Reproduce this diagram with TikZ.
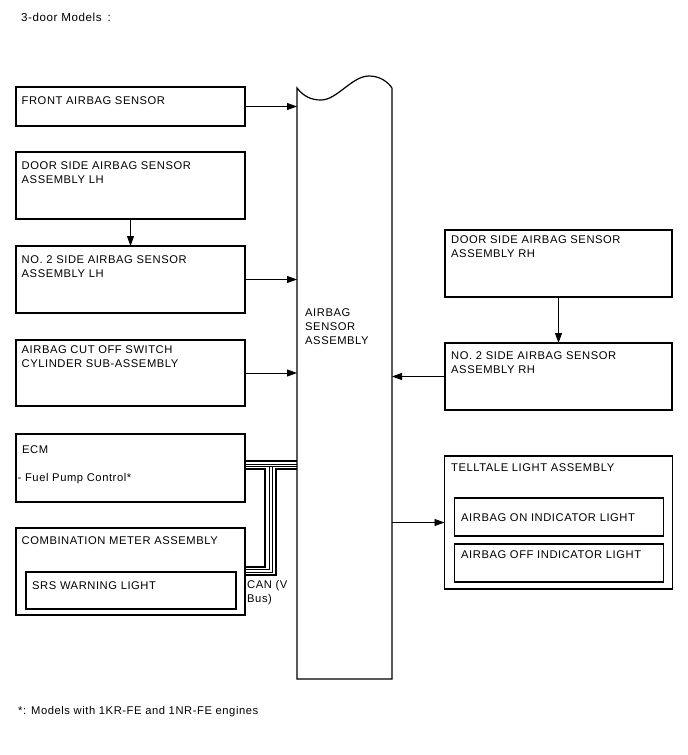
\documentclass[tikz,border=0pt]{standalone}
\usepackage{fontspec}
\setmainfont{Liberation Sans}[LetterSpace=5]
\usetikzlibrary{arrows.meta,positioning,calc}

\begin{document}
\begin{tikzpicture}[
  x=1pt,y=-1pt,
  font=\fontsize{11.2}{14}\selectfont,
  blk/.style={rectangle,draw,line width=1.1pt,inner sep=0pt,outer sep=0pt,minimum width=229pt},
  rblk/.style={rectangle,draw,line width=1.1pt,inner sep=0pt,outer sep=0pt,minimum width=227pt},
  inblk/.style={rectangle,draw,line width=1.1pt,inner sep=0pt,outer sep=0pt},
  txt/.style={anchor=north west,align=left,inner sep=0pt},
  wire/.style={line width=0.9pt},
  bus/.style={line width=2.4pt},
  busin/.style={line width=0.6pt},
  >={Triangle[length=10pt,width=7pt]}
]
\useasboundingbox (0,0) rectangle (688,755);

\node[txt,font=\fontsize{11.6}{14}\selectfont] (title) at (21,13) {3-door Models\hspace{2pt} :};

% left column
\node[blk,anchor=north west,minimum height=39pt] (front) at (16,87) {};
\node[blk,below=26pt of front,minimum height=67pt] (doorlh) {};
\node[blk,below=27pt of doorlh,minimum height=67pt] (no2lh) {};
\node[blk,below=27pt of no2lh,minimum height=66pt] (cutoff) {};
\node[blk,below=28pt of cutoff,minimum height=68pt] (ecm) {};
\node[blk,below=26pt of ecm,minimum height=87pt] (meter) {};
\node[inblk,anchor=north west,minimum width=210pt,minimum height=37pt] (srs) at ([shift={(10pt,-44pt)}]meter.north west) {};

\node[txt] (fronttxt) at ([shift={(5.5pt,-9.5pt)}]front.north west) {FRONT AIRBAG SENSOR};
\node[txt] (doorlhtxt) at ([shift={(5.5pt,-9.5pt)}]doorlh.north west) {DOOR SIDE AIRBAG SENSOR\\ASSEMBLY LH};
\node[txt] (no2lhtxt) at ([shift={(5.5pt,-9pt)}]no2lh.north west) {NO. 2 SIDE AIRBAG SENSOR\\ASSEMBLY LH};
\node[txt] (cutofftxt) at ([shift={(5.5pt,-5pt)}]cutoff.north west) {AIRBAG CUT OFF SWITCH\\CYLINDER SUB-ASSEMBLY};
\node[txt] (ecmtxt) at ([shift={(6pt,-11pt)}]ecm.north west) {ECM};
\node[txt] (fueltxt) at ([shift={(1.5pt,-39pt)}]ecm.north west) {- Fuel Pump Control*};
\node[txt] (metertxt) at ([shift={(5.5pt,-8pt)}]meter.north west) {COMBINATION METER ASSEMBLY};
\node[txt] (srstxt) at ([shift={(6pt,-9pt)}]srs.north west) {SRS WARNING LIGHT};

% airbag sensor assembly
\node[rectangle,inner sep=0pt,outer sep=0pt,minimum width=95pt,minimum height=591pt,anchor=north west] (sensor) at (297,88) {};
\draw[line width=1.2pt] (sensor.north east) -- (sensor.south east) -- (sensor.south west) -- (sensor.north west)
  .. controls (304,97) and (312,100) .. (321,100)
  .. controls (337,100) and (352,76) .. (369,76)
  .. controls (380,76) and (388,82) .. (sensor.north east);
\node[txt] (sensortxt) at (305,308) {AIRBAG\\SENSOR\\ASSEMBLY};

% right column
\node[rblk,anchor=north west,minimum height=67pt] (doorrh) at (445,230) {};
\node[rblk,below=46pt of doorrh,minimum height=67pt] (no2rh) {};
\node[blk,below=46pt of no2rh,minimum width=228pt,minimum height=133pt] (tell) {};
\node[inblk,anchor=north west,minimum width=209pt,minimum height=38pt] (on) at ([shift={(10pt,-42pt)}]tell.north west) {};
\node[inblk,below=8pt of on,minimum width=209pt,minimum height=38pt] (off) {};

\node[txt] (doorrhtxt) at ([shift={(6pt,-5.5pt)}]doorrh.north west) {DOOR SIDE AIRBAG SENSOR\\ASSEMBLY RH};
\node[txt] (no2rhtxt) at ([shift={(6pt,-8.5pt)}]no2rh.north west) {NO. 2 SIDE AIRBAG SENSOR\\ASSEMBLY RH};
\node[txt] (telltxt) at ([shift={(6.5pt,-7pt)}]tell.north west) {TELLTALE LIGHT ASSEMBLY};
\node[txt] (ontxt) at ([shift={(6.5pt,-15pt)}]on.north west) {AIRBAG ON INDICATOR LIGHT};
\node[txt] (offtxt) at ([shift={(6.5pt,-6pt)}]off.north west) {AIRBAG OFF INDICATOR LIGHT};

% connectors
\draw[wire,->] (front.east) -- (front.east -| sensor.west);
\draw[wire,->] (doorlh) -- (no2lh);
\draw[wire,->] (no2lh.east) -- (no2lh.east -| sensor.west);
\draw[wire,->] (cutoff.east) -- (cutoff.east -| sensor.west);
\draw[wire,->] (doorrh) -- (no2rh);
\draw[wire,->] (no2rh.west) -- (no2rh.west -| sensor.east);
\draw[wire,->] (sensor.east |- tell.west) -- (tell.west);

% CAN bus
\coordinate (e1) at ([yshift=7pt]ecm.east);
\coordinate (e2) at ([yshift=4pt]ecm.east);
\coordinate (e3) at ([yshift=1.5pt]ecm.east);
\coordinate (e4) at ([yshift=-1pt]ecm.east);
\coordinate (m1) at ([yshift=4.5pt]meter.east);
\coordinate (m2) at ([yshift=2pt]meter.east);
\coordinate (m3) at ([yshift=-0.5pt]meter.east);
\coordinate (m4) at ([yshift=-3.5pt]meter.east);
\draw[bus] (e1) -- (e1 -| sensor.west);
\draw[busin] (e2) -- (e2 -| sensor.west);
\draw[busin] (e3) -- (e3 -| sensor.west);
\draw[bus] (e4) -| ([xshift=20pt]m1) -- (m1);
\draw[bus] (e4 -| sensor.west) -| ([xshift=31pt]m4) -- (m4);
\draw[busin] ([xshift=24.5pt]e3) |- (m2);
\draw[busin] ([xshift=27pt]e3) |- (m3);
\node[txt] (cantxt) at (247,580) {CAN (V\\Bus)};

\node[txt] (note) at (18,706) {*: Models with 1KR-FE and 1NR-FE engines};
\end{tikzpicture}
\end{document}
